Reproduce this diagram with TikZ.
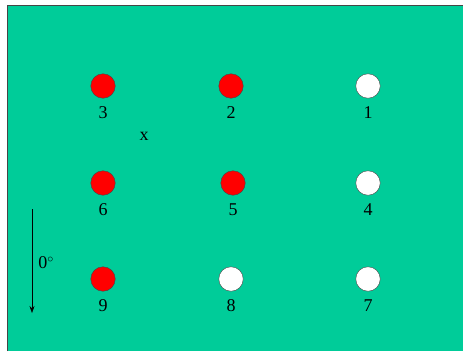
\documentclass[tikz,border=0pt]{standalone}
\usepackage{fontspec}
\setmainfont{Liberation Serif}
\usetikzlibrary{arrows.meta, positioning}
\definecolor{boardgreen}{RGB}{0,204,153}
\definecolor{ballred}{RGB}{255,0,0}
\definecolor{edgegray}{RGB}{70,70,70}

\begin{document}
\begin{tikzpicture}[
    x=1pt, y=-1pt,
    every node/.style={font=\fontsize{18}{18}\selectfont},
    ball/.style={
      circle, draw=edgegray, thin,
      minimum size=24.5pt, inner sep=0pt
    },
    redball/.style={ball, fill=ballred},
    whiteball/.style={ball, fill=white},
    num/.style={label={[label distance=5pt, font=\fontsize{18}{18}\selectfont]below:#1}},
    arrow/.style={-{Stealth[length=7pt, width=5pt]}, semithick}
  ]
    \useasboundingbox (0,0) rectangle (463,351);
    \fill[boardgreen] (7,5) rectangle (463,351);
    \draw[edgegray, thick] (7,351) -- (7,5) -- (463,5);

    % top row
    \node[redball, num=3] (b3) at (103,86) {};
    \node[redball, num=2] (b2) at (231,86) {};
    \node[whiteball, num=1] (b1) at (368,86) {};
    % middle row
    \node[redball, num=6] (b6) at (103,183) {};
    \node[redball, num=5] (b5) at (233,183) {};
    \node[whiteball, num=4] (b4) at (368,183) {};
    % bottom row
    \node[redball, num=9] (b9) at (103,279) {};
    \node[whiteball, num=8] (b8) at (231,279) {};
    \node[whiteball, num=7] (b7) at (368,279) {};

    \node (xmark) at (144,136) {x};

    \coordinate (dirtop) at (32,209);
    \coordinate (dirbot) at (32,313);
    \draw[arrow] (dirtop) -- (dirbot);
    \node (angle) at (46,263) {0$^\circ$};
  \end{tikzpicture}
\end{document}
